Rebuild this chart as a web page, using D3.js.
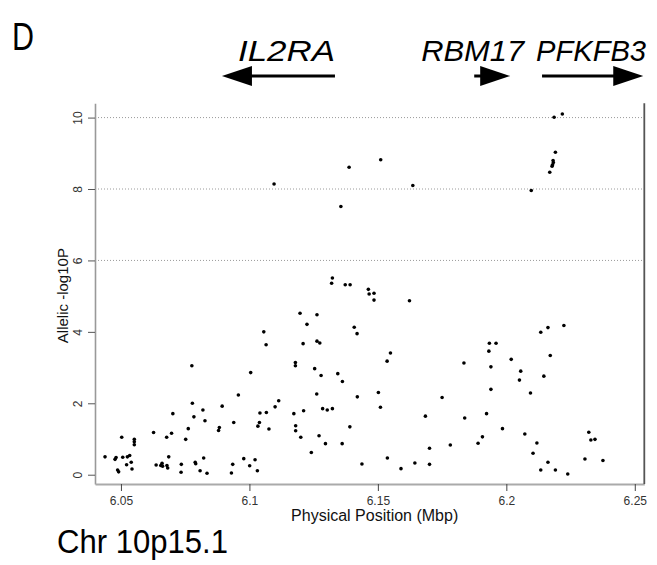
<!DOCTYPE html>
<html>
<head>
<meta charset="utf-8">
<script src="https://cdn.jsdelivr.net/npm/d3@7"></script>
<style>
  html, body { margin: 0; padding: 0; background: #fff; }
  svg { display: block; font-family: "Liberation Sans", Arial, Helvetica, sans-serif; }
</style>
</head>
<body>
<svg id="chart" width="657" height="565"></svg>
<script>
// SNP positions (Mbp) and allelic association, -log10 P
const positionMbp = [
  6.0438, 6.0477, 6.0481, 6.0487, 6.0491, 6.0503, 6.0507, 6.0522, 6.0525, 6.0534,
  6.0540, 6.0543, 6.0552, 6.0552, 6.0552, 6.0627, 6.0637, 6.0655, 6.0660, 6.0662,
  6.0678, 6.0679, 6.0682, 6.0686, 6.0697, 6.0702, 6.0734, 6.0735, 6.0752, 6.0762,
  6.0776, 6.0778, 6.0784, 6.0789, 6.0791, 6.0808, 6.0819, 6.0822, 6.0827, 6.0835,
  6.0880, 6.0883, 6.0894, 6.0930, 6.0935, 6.0939, 6.0957, 6.0978, 6.1001, 6.1005,
  6.1022, 6.1031, 6.1033, 6.1039, 6.1041, 6.1056, 6.1065, 6.1066, 6.1076, 6.1096,
  6.1100, 6.1114, 6.1173, 6.1179, 6.1179, 6.1180, 6.1180, 6.1197, 6.1200, 6.1209,
  6.1211, 6.1224, 6.1241, 6.1254, 6.1262, 6.1263, 6.1263, 6.1271, 6.1274, 6.1279,
  6.1285, 6.1296, 6.1303, 6.1320, 6.1323, 6.1323, 6.1344, 6.1356, 6.1361, 6.1362,
  6.1373, 6.1388, 6.1391, 6.1392, 6.1408, 6.1419, 6.1420, 6.1438, 6.1463, 6.1466,
  6.1485, 6.1485, 6.1502, 6.1510, 6.1511, 6.1536, 6.1537, 6.1549, 6.1590, 6.1623,
  6.1636, 6.1644, 6.1685, 6.1701, 6.1701, 6.1750, 6.1782, 6.1835, 6.1838, 6.1890,
  6.1907, 6.1923, 6.1932, 6.1934, 6.1940, 6.1940, 6.1960, 6.1985, 6.2019, 6.2051,
  6.2056, 6.2072, 6.2094, 6.2097, 6.2104, 6.2119, 6.2134, 6.2134, 6.2146, 6.2162,
  6.2162, 6.2169, 6.2171, 6.2178, 6.2180, 6.2182, 6.2183, 6.2186, 6.2191, 6.2191,
  6.2218, 6.2224, 6.2239, 6.2306, 6.2321, 6.2329, 6.2345, 6.2376
];
const allelicLog10P = [
  0.50, 0.43, 0.48, 0.13, 0.08, 1.05, 0.49, 0.28, 0.50, 0.54,
  0.35, 0.16, 0.99, 0.92, 0.84, 1.18, 0.27, 0.26, 0.32, 0.24,
  1.05, 0.26, 0.19, 0.50, 1.16, 1.71, 0.07, 0.29, 0.99, 1.29,
  3.05, 2.00, 1.62, 0.35, 0.31, 0.11, 1.81, 0.47, 1.51, 0.04,
  1.24, 1.32, 1.92, 0.05, 0.29, 1.46, 2.23, 0.45, 0.25, 2.86,
  0.42, 0.11, 1.36, 1.46, 1.73, 4.00, 3.64, 1.74, 1.28, 8.14,
  1.90, 2.07, 1.71, 3.14, 3.05, 1.37, 1.23, 4.52, 1.05, 3.67,
  1.79, 4.21, 0.62, 2.97, 2.26, 4.48, 3.74, 1.09, 3.69, 2.78,
  1.85, 0.87, 1.81, 5.36, 5.51, 1.85, 2.83, 7.51, 0.87, 2.61,
  5.32, 8.61, 1.34, 5.32, 4.13, 3.95, 2.18, 0.30, 5.19, 5.06,
  5.08, 4.89, 2.30, 1.89, 8.82, 3.18, 0.47, 3.41, 0.17, 4.87,
  8.10, 0.33, 1.64, 0.74, 0.29, 2.16, 0.83, 3.13, 1.59, 0.88,
  1.06, 1.71, 3.46, 3.68, 3.02, 2.39, 3.68, 1.29, 3.23, 2.65,
  2.90, 1.14, 2.29, 7.96, 0.60, 0.89, 3.99, 0.13, 2.76, 4.12,
  0.35, 8.47, 3.34, 8.64, 8.68, 8.80, 8.74, 10.01, 9.03, 0.13,
  10.10, 4.18, 0.02, 0.44, 1.19, 0.97, 0.99, 0.40
];

// Axis ticks
const xTicks = [6.05, 6.10, 6.15, 6.20, 6.25];
const xTickLabels = ["6.05", "6.1", "6.15", "6.2", "6.25"];
const yTicks = [0, 2, 4, 6, 8, 10];
const gridValues = [6, 8, 10];

// Genes in the region: name, transcription start and end (Mbp); arrow points to the end
const geneNames = ["IL2RA", "RBM17", "PFKFB3"];
const geneFrom  = [6.1333, 6.1875, 6.2139];
const geneTo    = [6.0893, 6.2015, 6.2533];

const points = positionMbp.map((p, i) => ({ pos: p, val: allelicLog10P[i] }));

const svg = d3.select("#chart");

const x = d3.scaleLinear().domain([6.0399, 6.2537]).range([95, 644.3]);
const y = d3.scaleLinear().domain([-0.26, 10.40]).range([484, 103.3]);

// dotted reference lines
svg.append("g").selectAll("line").data(gridValues).join("line")
  .attr("x1", x.range()[0]).attr("x2", x.range()[1])
  .attr("y1", d => y(d)).attr("y2", d => y(d))
  .attr("stroke", "#9a9a9a").attr("stroke-width", 1)
  .attr("stroke-dasharray", "1,2");

// left axis, labels turned parallel to the axis
const yAxis = svg.append("g")
  .attr("transform", `translate(${x.range()[0]},0)`)
  .call(d3.axisLeft(y).tickValues(yTicks).tickSize(7).tickSizeOuter(0));
yAxis.select(".domain").attr("stroke", "#999").attr("stroke-width", 1.6);
yAxis.selectAll(".tick line").attr("stroke", "#555");
yAxis.selectAll(".tick text")
  .attr("x", null).attr("dy", null)
  .attr("transform", "translate(-13,0) rotate(-90)")
  .attr("text-anchor", "middle")
  .attr("fill", "#333").attr("font-size", 12);

// bottom axis
const xAxis = svg.append("g")
  .attr("transform", `translate(0,${y.range()[0]})`)
  .call(d3.axisBottom(x).tickValues(xTicks).tickSize(7).tickSizeOuter(0).tickPadding(5)
    .tickFormat((d, i) => xTickLabels[i]));
xAxis.select(".domain").attr("stroke", "#aaa").attr("stroke-width", 2);
xAxis.selectAll(".tick line").attr("stroke", "#444");
xAxis.selectAll(".tick text").attr("fill", "#333").attr("font-size", 12);

// right frame line
svg.append("line")
  .attr("x1", x.range()[1]).attr("x2", x.range()[1])
  .attr("y1", y.range()[1]).attr("y2", y.range()[0])
  .attr("stroke", "#555").attr("stroke-width", 1.8);

// SNP markers
svg.append("g").selectAll("circle").data(points).join("circle")
  .attr("cx", d => x(d.pos)).attr("cy", d => y(d.val))
  .attr("r", 1.8).attr("fill", "#000");

// axis titles
svg.append("text")
  .attr("transform", `translate(68,${(y.range()[0] + y.range()[1]) / 2 + 2}) rotate(-90)`)
  .attr("text-anchor", "middle").attr("font-size", 15).attr("fill", "#111")
  .text("Allelic -log10P");

svg.append("text")
  .attr("x", (x.range()[0] + x.range()[1]) / 2 + 5).attr("y", 521)
  .attr("text-anchor", "middle").attr("font-size", 16).attr("fill", "#111")
  .text("Physical Position (Mbp)");

// panel letter and region name
svg.append("text").attr("x", 12).attr("y", 50)
  .attr("font-size", 38).attr("fill", "#000")
  .attr("textLength", 22).attr("lengthAdjust", "spacingAndGlyphs")
  .text("D");
svg.append("text").attr("x", 57).attr("y", 553)
  .attr("font-size", 33).attr("fill", "#000")
  .attr("textLength", 171).attr("lengthAdjust", "spacingAndGlyphs")
  .text("Chr 10p15.1");

// gene arrows and names
const arrowY = 76, headLen = 30, headHalf = 10;
const genes = geneNames.map((n, i) => ({ name: n, from: geneFrom[i], to: geneTo[i] }));
const gg = svg.append("g");
genes.forEach(g => {
  const x0 = x(g.from), x1 = x(g.to);
  const dir = Math.sign(x1 - x0);
  const base = x1 - dir * headLen;
  gg.append("line").attr("x1", x0).attr("x2", base + dir * 2)
    .attr("y1", arrowY).attr("y2", arrowY)
    .attr("stroke", "#000").attr("stroke-width", 3);
  gg.append("path")
    .attr("d", `M${x1},${arrowY} L${base},${arrowY - headHalf} L${base},${arrowY + headHalf} Z`)
    .attr("fill", "#000");
});
// labels sit above the arrows: left edge and width of each name
const labelLeft = [x(geneFrom[0]) - 97, x(geneTo[1]) - 89, x(geneFrom[2]) - 6];
const labelWidth = [97, 103, 110];
gg.selectAll("text").data(genes).join("text")
  .attr("x", (d, i) => labelLeft[i])
  .attr("y", 61)
  .attr("font-size", 30).attr("font-style", "italic").attr("fill", "#000")
  .attr("textLength", (d, i) => labelWidth[i]).attr("lengthAdjust", "spacingAndGlyphs")
  .text(d => d.name);
</script>
</body>
</html>
